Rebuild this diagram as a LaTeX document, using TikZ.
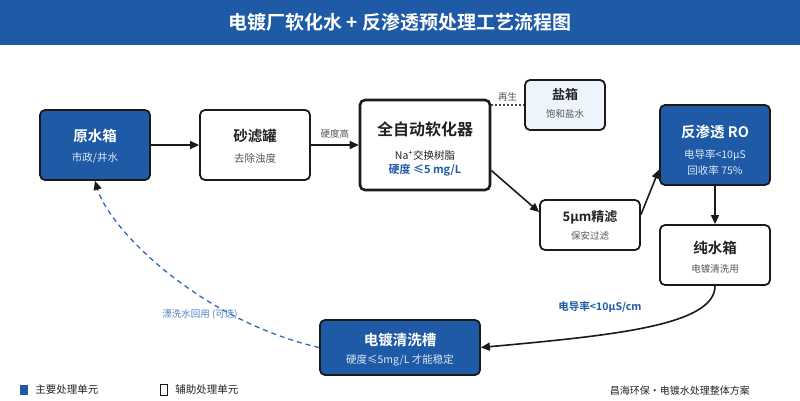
\documentclass[tikz,border=0pt]{standalone}
\usepackage{fontspec}
\setmainfont{Noto Sans CJK SC}[BoldFont={Noto Sans CJK SC Bold}]
\usetikzlibrary{arrows.meta,positioning,calc}
\definecolor{epblue}{HTML}{1F5AA6}
\definecolor{epline}{HTML}{1A1A1A}
\definecolor{eptext}{HTML}{222222}
\definecolor{epgrey}{HTML}{555555}
\definecolor{epsalt}{HTML}{EEF4FC}
\definecolor{epsubw}{HTML}{DDE6F4}
\definecolor{epdash}{HTML}{3068B8}

\begin{document}
\begin{tikzpicture}[
  x=1pt, y=1pt,
  unit/.style={
    draw=epline, line width=1.8pt, rounded corners=5pt, inner sep=0pt},
  mainunit/.style={unit, fill=epblue},
  auxunit/.style={unit, fill=white},
  saltunit/.style={unit, fill=epsalt},
  ttl/.style={font=\fontsize{14.5}{17}\selectfont\bfseries, text=eptext, inner sep=0pt},
  ttlw/.style={ttl, text=white},
  sub/.style={font=\fontsize{10.5}{12}\selectfont, text=epgrey, inner sep=0pt},
  subw/.style={sub, text=epsubw},
  flow/.style={-{Triangle[length=9pt,width=8pt]}, epline, line width=1.6pt},
  recycle/.style={-{Triangle[length=9pt,width=8pt,color=epline]}, epdash, line width=1.3pt,
    dash pattern=on 5pt off 4pt},
  lbl/.style={font=\fontsize{9.5}{11}\selectfont, text=epgrey, inner sep=1pt},
]
  \useasboundingbox (0,0) rectangle (800,400);

  %% ---- Title ----
  \fill[epblue] (0,355) rectangle (800,400);
  \node[font=\fontsize{19}{22}\selectfont\bfseries, text=white] (title) at (400,378)
    {电镀厂软化水 + 反渗透预处理工艺流程图};

  %% ---- Units ----
  \node[mainunit, minimum width=110, minimum height=70] (raw)  at (95,255)  {};
  \node[auxunit,  minimum width=110, minimum height=70] (sand) at (255,255) {};
  \node[auxunit,  minimum width=130, minimum height=90, line width=2.6pt] (soft) at (425,255) {};
  \node[saltunit, minimum width=80,  minimum height=50] (salt) at (565,295) {};
  \node[auxunit,  minimum width=100, minimum height=50] (fine) at (590,175) {};
  \node[mainunit, minimum width=110, minimum height=80] (ro)   at (715,255) {};
  \node[auxunit,  minimum width=110, minimum height=60] (pure) at (715,145) {};
  \node[mainunit, minimum width=160, minimum height=55] (tank) at (400,52.5) {};

  %% ---- Unit texts ----
  \node[ttlw] (raw-t)  at ($(raw)+(0,9)$)    {原水箱};
  \node[subw] (raw-s)  at ($(raw)+(0,-13)$)  {市政/井水};
  \node[ttl]  (sand-t) at ($(sand)+(0,9)$)   {砂滤罐};
  \node[sub]  (sand-s) at ($(sand)+(0,-13)$) {去除浊度};
  \node[ttl, font=\fontsize{16}{19}\selectfont\bfseries] (soft-t) at ($(soft)+(0,16)$) {全自动软化器};
  \node[sub, text=eptext] (soft-s) at ($(soft)+(0,-10)$) {Na\textsuperscript{+}交换树脂};
  \node[sub, font=\fontsize{11}{13}\selectfont\bfseries, text=epblue] (soft-h) at ($(soft)+(0,-25)$) {硬度 ≤5 mg/L};
  \node[ttl, font=\fontsize{13}{15}\selectfont\bfseries] (salt-t) at ($(salt)+(0,10)$) {盐箱};
  \node[sub, font=\fontsize{9.5}{11}\selectfont] (salt-s) at ($(salt)+(0,-9)$) {饱和盐水};
  \node[ttl, font=\fontsize{13}{15}\selectfont\bfseries] (fine-t) at ($(fine)+(0,8)$) {5μm精滤};
  \node[sub, font=\fontsize{9.5}{11}\selectfont] (fine-s) at ($(fine)+(0,-11)$) {保安过滤};
  \node[ttlw] (ro-t)   at ($(ro)+(0,13)$)    {反渗透 RO};
  \node[subw] (ro-s1)  at ($(ro)+(0,-10)$)   {电导率<10μS};
  \node[subw] (ro-s2)  at ($(ro)+(0,-25)$)   {回收率 75\%};
  \node[ttl]  (pure-t) at ($(pure)+(0,7)$)   {纯水箱};
  \node[sub, font=\fontsize{9.5}{11}\selectfont] (pure-s) at ($(pure)+(0,-14)$) {电镀清洗用};
  \node[ttlw] (tank-t) at ($(tank)+(0,7.5)$) {电镀清洗槽};
  \node[subw] (tank-s) at ($(tank)+(0,-12.5)$) {硬度≤5mg/L 才能稳定};

  %% ---- Main flow ----
  \draw[flow] (raw.east) -- (sand.west);
  \draw[flow] (sand.east) -- (soft.west) node[lbl, midway, above=5pt] (hard-lbl) {硬度高};
  \draw[flow] ($(soft.east)!0.55!(soft.south east)$) -- ($(fine.west)!0.5!(fine.north west)$);
  \draw[flow] ($(fine.east)!0.4!(fine.north east)$) -- ($(ro.west)!0.6!(ro.south west)$);
  \draw[flow] (ro.south) -- (pure.north);
  \draw[flow] (pure.south) .. controls +(0,-40) and +(130,12) .. (tank.east);
  \node[font=\fontsize{10.5}{12}\selectfont\bfseries, text=epblue] (cond-lbl) at (600,93) {电导率<10μS/cm};

  %% ---- Regeneration ----
  \draw[epline!80, line width=1.3pt, dash pattern=on 2pt off 2pt]
    (soft.east |- salt.west) -- (salt.west) node[lbl, midway, above=2pt] (regen-lbl) {再生};

  %% ---- Rinse water recycling ----
  \draw[recycle] (tank.west) .. controls (200,80) and (110,170) .. (raw.south);
  \node[lbl, text=epdash!85, font=\fontsize{9.5}{11}\selectfont] (rinse-lbl) at (200,86) {漂洗水回用 (可选)};

  %% ---- Legend ----
  \node[fill=epblue, minimum width=8, minimum height=10, inner sep=0pt] (key-main) at (24,10) {};
  \node[lbl, text=eptext, font=\fontsize{10.5}{12}\selectfont, right=6pt of key-main] (key-main-t) {主要处理单元};
  \node[draw=epline, line width=1.5pt, fill=white, minimum width=7, minimum height=11, inner sep=0pt] (key-aux) at (164,10) {};
  \node[lbl, text=eptext, font=\fontsize{10.5}{12}\selectfont, right=6pt of key-aux] (key-aux-t) {辅助处理单元};
  \node[lbl, text=eptext, font=\fontsize{10}{12}\selectfont, anchor=east] (footer) at (751,9) {昌海环保・电镀水处理整体方案};

\end{tikzpicture}
\end{document}
